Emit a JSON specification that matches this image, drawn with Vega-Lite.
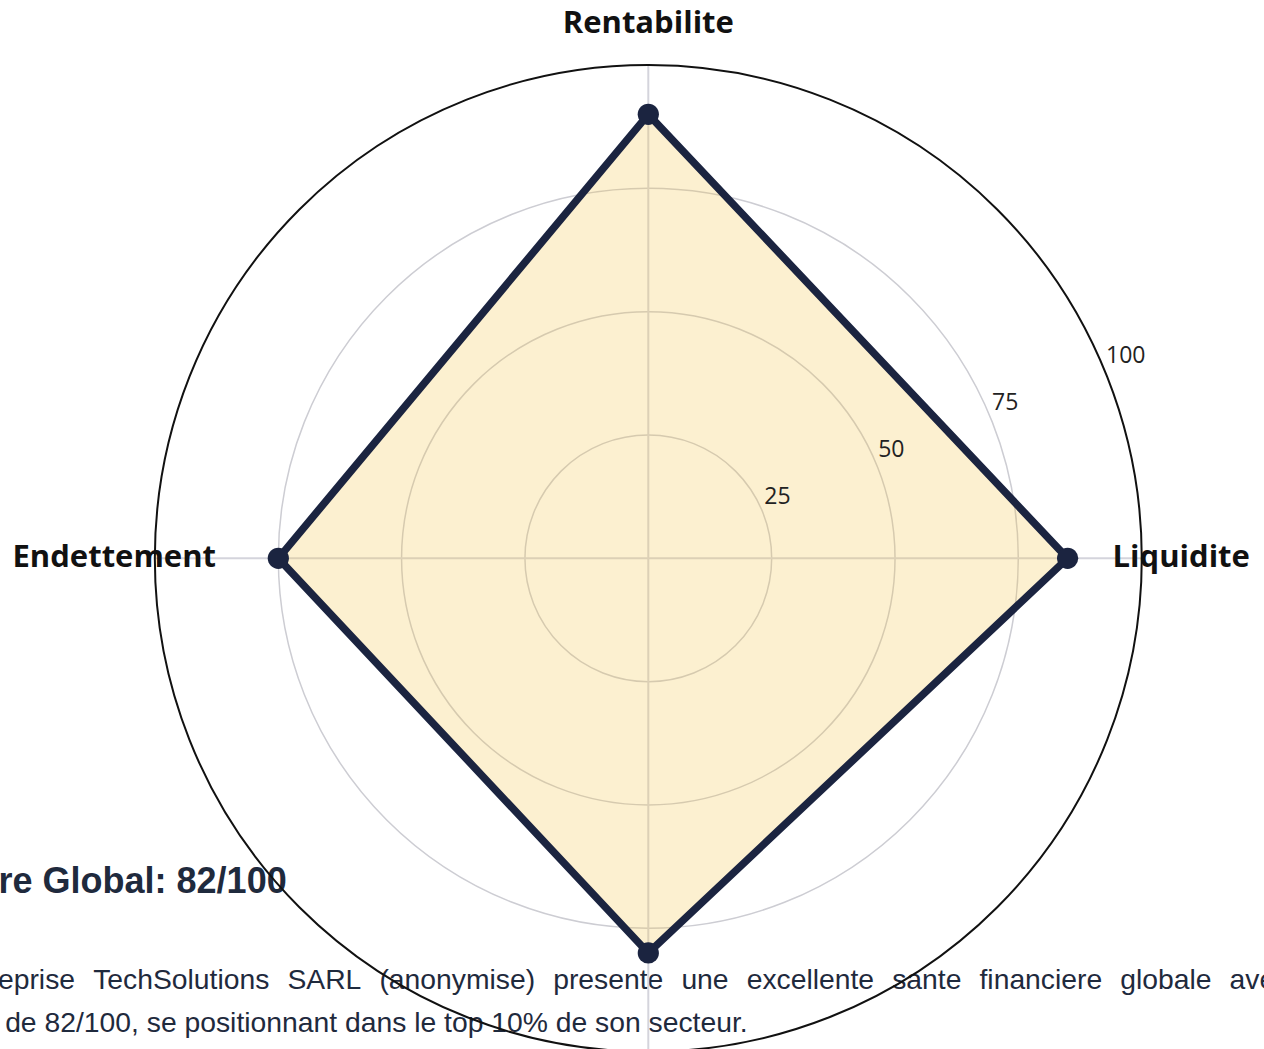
{
  "$schema": "https://vega.github.io/schema/vega-lite/v6.json",
  "width": 1264,
  "height": 1049,
  "autosize": "none",
  "padding": 0,
  "background": "white",
  "config": {"view": {"stroke": null}},
  "datasets": {
    "scores": [
      {"critere": "Rentabilite", "score": 90, "ordre": 0},
      {"critere": "Liquidite", "score": 85, "ordre": 1},
      {"critere": "Solvabilite", "score": 80, "ordre": 2},
      {"critere": "Endettement", "score": 75, "ordre": 3}
    ],
    "grille": [{"r": 25}, {"r": 50}, {"r": 75}, {"r": 100}]
  },
  "layer": [
    {
      "data": {"values": [{"texte": "Score Global: 82/100"}]},
      "mark": {"type": "text", "font": "Liberation Sans", "fontWeight": "bold", "fontSize": 36, "align": "left", "baseline": "alphabetic", "color": "#1f2a3d"},
      "encoding": {
        "x": {"datum": -145.1, "type": "quantitative", "scale": {"domain": [-131.42, 124.81], "nice": false, "zero": false}, "axis": null},
        "y": {"datum": -67.9, "type": "quantitative", "scale": {"domain": [-99.47, 113.18], "nice": false, "zero": false}, "axis": null},
        "text": {"field": "texte"}
      }
    },
    {
      "data": {"values": [{"texte": "L'entreprise\u00a0 \u200aTechSolutions\u00a0 \u200aSARL\u00a0 \u200a(anonymise)\u00a0 \u200apresente\u00a0 \u200aune\u00a0 \u200aexcellente\u00a0 \u200asante\u00a0 \u200afinanciere\u00a0 \u200aglobale\u00a0 \u200aavec\u00a0 \u200aun"}]},
      "mark": {"type": "text", "font": "Liberation Sans", "fontSize": 28.3, "align": "left", "baseline": "alphabetic", "color": "#1f2a3d"},
      "encoding": {
        "x": {"datum": -146.0, "type": "quantitative"},
        "y": {"datum": -87.3, "type": "quantitative"},
        "text": {"field": "texte"}
      }
    },
    {
      "data": {"values": [{"texte": "score de 82/100, se positionnant dans le top 10% de son secteur."}]},
      "mark": {"type": "text", "font": "Liberation Sans", "fontSize": 28.3, "align": "left", "baseline": "alphabetic", "color": "#1f2a3d"},
      "encoding": {
        "x": {"datum": -146.0, "type": "quantitative"},
        "y": {"datum": -96.0, "type": "quantitative"},
        "text": {"field": "texte"}
      }
    },
    {
      "data": {"name": "grille"},
      "transform": [{"filter": "datum.r < 100"}],
      "mark": {"type": "arc", "theta": 0, "theta2": 6.2832, "fill": "transparent", "stroke": "#cdcdd3", "strokeWidth": 1.5},
      "encoding": {
        "x": {"datum": 0, "type": "quantitative"},
        "y": {"datum": 0, "type": "quantitative"},
        "radius": {"field": "r", "type": "quantitative", "stack": null, "scale": {"type": "linear", "domain": [0, 100], "range": [0, 493.3], "zero": true, "nice": false}}
      }
    },
    {
      "data": {"name": "scores"},
      "transform": [
        {"calculate": "100 * sin(datum.ordre * PI / 2)", "as": "ex"},
        {"calculate": "100 * cos(datum.ordre * PI / 2)", "as": "ey"}
      ],
      "mark": {"type": "rule", "color": "#d4d4dc", "strokeWidth": 2},
      "encoding": {
        "x": {"field": "ex", "type": "quantitative"},
        "y": {"field": "ey", "type": "quantitative"},
        "x2": {"datum": 0},
        "y2": {"datum": 0}
      }
    },
    {
      "data": {"name": "grille"},
      "transform": [{"filter": "datum.r == 100"}],
      "mark": {"type": "arc", "theta": 0, "theta2": 6.2832, "fill": "transparent", "stroke": "#111111", "strokeWidth": 2},
      "encoding": {
        "x": {"datum": 0, "type": "quantitative"},
        "y": {"datum": 0, "type": "quantitative"},
        "radius": {"field": "r", "type": "quantitative", "stack": null, "scale": {"type": "linear", "domain": [0, 100], "range": [0, 493.3], "zero": true, "nice": false}}
      }
    },
    {
      "data": {"name": "scores"},
      "transform": [
        {"calculate": "datum.score * sin(datum.ordre * PI / 2)", "as": "px"},
        {"calculate": "datum.score * cos(datum.ordre * PI / 2)", "as": "py"}
      ],
      "mark": {"type": "line", "interpolate": "linear-closed", "fill": "#f5c542", "fillOpacity": 0.25, "stroke": "#1b2440", "strokeWidth": 7.5, "strokeJoin": "round"},
      "encoding": {
        "x": {"field": "px", "type": "quantitative"},
        "y": {"field": "py", "type": "quantitative"},
        "order": {"field": "ordre", "type": "quantitative"}
      }
    },
    {
      "data": {"name": "scores"},
      "transform": [
        {"calculate": "datum.score * sin(datum.ordre * PI / 2)", "as": "px"},
        {"calculate": "datum.score * cos(datum.ordre * PI / 2)", "as": "py"}
      ],
      "mark": {"type": "point", "shape": "circle", "filled": true, "size": 450, "color": "#1b2440", "opacity": 1},
      "encoding": {
        "x": {"field": "px", "type": "quantitative"},
        "y": {"field": "py", "type": "quantitative"}
      }
    },
    {
      "data": {"name": "grille"},
      "transform": [
        {"calculate": "datum.r * cos(PI / 8)", "as": "tx"},
        {"calculate": "datum.r * sin(PI / 8)", "as": "ty"}
      ],
      "mark": {"type": "text", "font": "Open Sans", "fontSize": 23, "align": "left", "baseline": "middle", "dx": 2, "dy": -14, "color": "#222222"},
      "encoding": {
        "x": {"field": "tx", "type": "quantitative"},
        "y": {"field": "ty", "type": "quantitative"},
        "text": {"field": "r", "type": "quantitative"}
      }
    },
    {
      "data": {"name": "scores"},
      "transform": [
        {"filter": "datum.ordre == 0"},
        {"calculate": "100 * sin(datum.ordre * PI / 2)", "as": "lx"},
        {"calculate": "100 * cos(datum.ordre * PI / 2)", "as": "ly"}
      ],
      "mark": {"type": "text", "font": "Open Sans", "fontWeight": "bold", "fontSize": 31, "align": "center", "baseline": "alphabetic", "dy": -32, "color": "#111111"},
      "encoding": {
        "x": {"field": "lx", "type": "quantitative"},
        "y": {"field": "ly", "type": "quantitative"},
        "text": {"field": "critere"}
      }
    },
    {
      "data": {"name": "scores"},
      "transform": [
        {"filter": "datum.ordre == 1"},
        {"calculate": "100 * sin(datum.ordre * PI / 2)", "as": "lx"},
        {"calculate": "100 * cos(datum.ordre * PI / 2)", "as": "ly"}
      ],
      "mark": {"type": "text", "font": "Open Sans", "fontWeight": "bold", "fontSize": 31, "align": "left", "baseline": "alphabetic", "dx": -29, "dy": 9, "color": "#111111"},
      "encoding": {
        "x": {"field": "lx", "type": "quantitative"},
        "y": {"field": "ly", "type": "quantitative"},
        "text": {"field": "critere"}
      }
    },
    {
      "data": {"name": "scores"},
      "transform": [
        {"filter": "datum.ordre == 2"},
        {"calculate": "100 * sin(datum.ordre * PI / 2)", "as": "lx"},
        {"calculate": "100 * cos(datum.ordre * PI / 2)", "as": "ly"}
      ],
      "mark": {"type": "text", "font": "Open Sans", "fontWeight": "bold", "fontSize": 31, "align": "center", "baseline": "top", "dy": 14, "color": "#111111"},
      "encoding": {
        "x": {"field": "lx", "type": "quantitative"},
        "y": {"field": "ly", "type": "quantitative"},
        "text": {"field": "critere"}
      }
    },
    {
      "data": {"name": "scores"},
      "transform": [
        {"filter": "datum.ordre == 3"},
        {"calculate": "100 * sin(datum.ordre * PI / 2)", "as": "lx"},
        {"calculate": "100 * cos(datum.ordre * PI / 2)", "as": "ly"}
      ],
      "mark": {"type": "text", "font": "Open Sans", "fontWeight": "bold", "fontSize": 31, "align": "right", "baseline": "alphabetic", "dx": 61, "dy": 9, "color": "#111111"},
      "encoding": {
        "x": {"field": "lx", "type": "quantitative"},
        "y": {"field": "ly", "type": "quantitative"},
        "text": {"field": "critere"}
      }
    }
  ]
}
